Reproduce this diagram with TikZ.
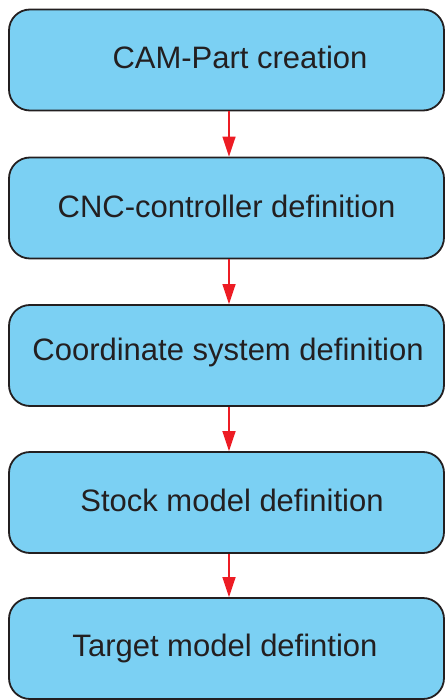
\documentclass[tikz,border=0pt]{standalone}
\usepackage{fontspec}
\setmainfont{Liberation Sans}
\usetikzlibrary{arrows.meta}
\definecolor{boxfill}{HTML}{7BD0F3}
\definecolor{boxline}{HTML}{231F20}
\definecolor{arrred}{HTML}{ED1C24}
\begin{document}
\begin{tikzpicture}[x=1pt,y=-1pt,
  stepbox/.style={draw=boxline, line width=1.8pt, fill=boxfill, rounded corners=21pt,
    minimum width=435pt, minimum height=101pt, inner sep=0pt},
  steptext/.style={font=\fontsize{31}{36}\selectfont, text=boxline, inner sep=0pt},
  flow/.style={draw=arrred, line width=1.6pt, -{Triangle[length=20pt,width=13pt]}}]
\useasboundingbox (0,0) rectangle (445,700);
\node[stepbox] (b1) at (226.5,60) {};
\node[stepbox] (b2) at (226.5,208) {};
\node[stepbox] (b3) at (226.5,355.5) {};
\node[stepbox] (b4) at (226.5,502.5) {};
\node[stepbox] (b5) at (226.5,648.5) {};
\node[steptext] (t1) at (240,57) {CAM-Part creation};
\node[steptext] (t2) at (226.5,206) {CNC-controller definition};
\node[steptext] (t3) at (228,352) {Coordinate system definition};
\node[steptext] (t4) at (232,500) {Stock model definition};
\node[steptext] (t5) at (225,648) {Target model defintion};
\draw[flow] (b1.south -| 229,0) -- (b2.north -| 229,0);
\draw[flow] (b2.south -| 229,0) -- (b3.north -| 229,0);
\draw[flow] (b3.south -| 229,0) -- (b4.north -| 229,0);
\draw[flow] (b4.south -| 229,0) -- (b5.north -| 229,0);
\end{tikzpicture}
\end{document}
